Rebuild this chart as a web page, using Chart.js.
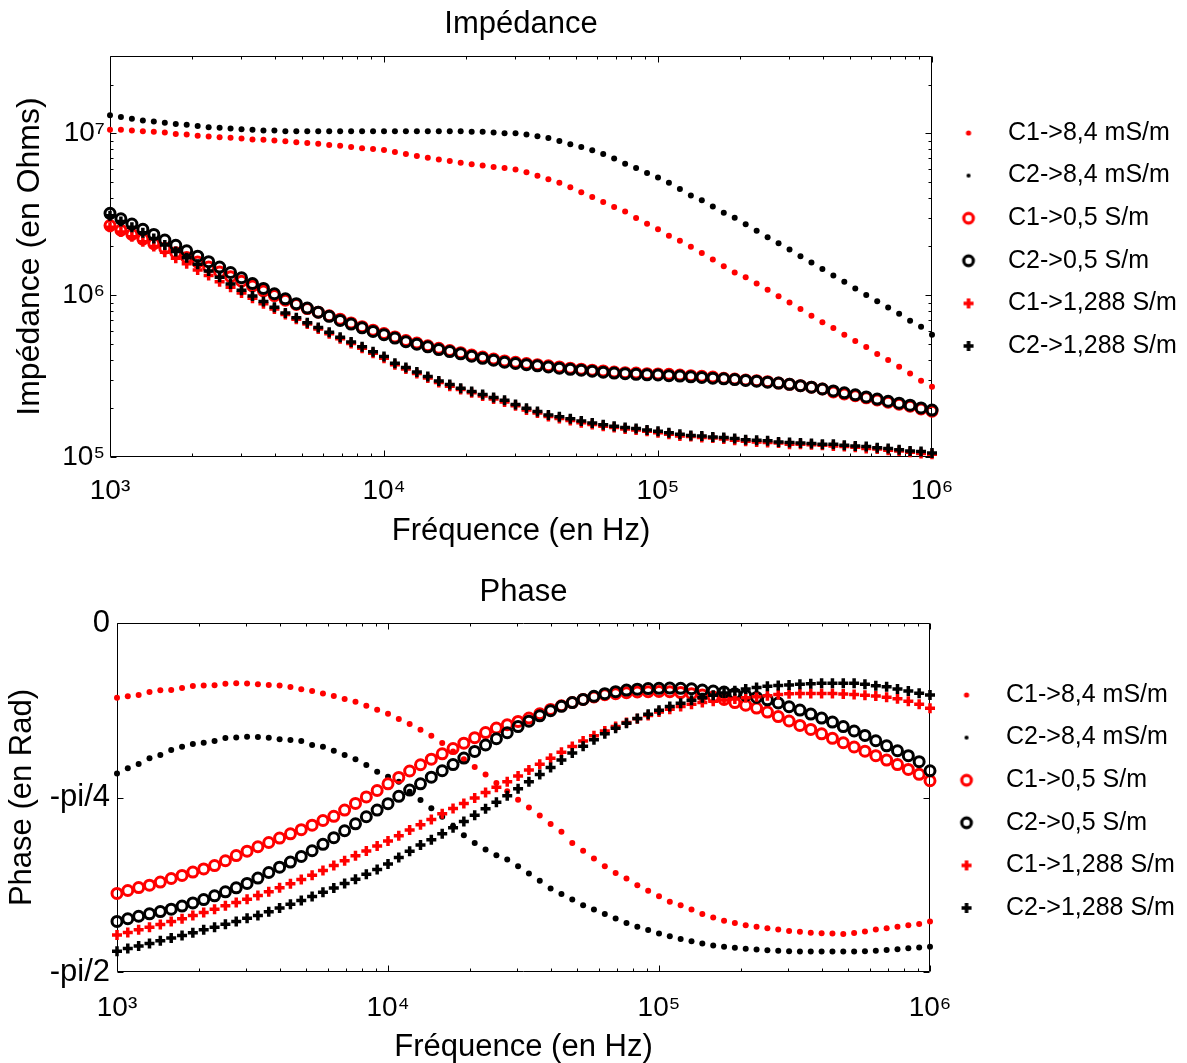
<!DOCTYPE html>
<html><head><meta charset="utf-8">
<script src="https://cdn.jsdelivr.net/npm/chart.js@4.4.1/dist/chart.umd.min.js"></script>
<style>
html,body{margin:0;padding:0;background:#fff;}
body{width:1187px;height:1063px;position:relative;overflow:hidden;}
canvas{position:absolute;left:0;}
</style></head>
<body>
<canvas id="cImp" width="1187" height="560" style="top:0px"></canvas>
<canvas id="cPh" width="1187" height="503" style="top:560px"></canvas>
<script>
// ---------- DATA ----------
const freqHz = [1000,1096,1202,1318,1445,1585,1738,1905,2089,2291,2512,2754,3020,3311,3631,3981,4365,4786,5248,5754,6310,6918,7586,8318,9120,
10000,10960,12020,13180,14450,15850,17380,19050,20890,22910,25120,27540,30200,33110,36310,39810,43650,47860,52480,57540,63100,69180,75860,83180,91200,
100000,109600,120200,131800,144500,158500,173800,190500,208900,229100,251200,275400,302000,331100,363100,398100,436500,478600,524800,575400,631000,691800,758600,831800,912000,
1000000];

const seriesLabels = ['C1->8,4 mS/m','C2->8,4 mS/m','C1->0,5 S/m','C2->0,5 S/m','C1->1,288 S/m','C2->1,288 S/m'];

// Impedance (Ohms)
const impC1_84 = [1.05e7,1.05e7,1.04e7,1.03e7,1.02e7,1.01e7,9.89e6,9.82e6,9.66e6,9.55e6,
9.44e6,9.38e6,9.29e6,9.16e6,9.12e6,9.02e6,8.91e6,8.81e6,8.71e6,8.61e6,
8.47e6,8.36e6,8.22e6,8.09e6,8.00e6,7.89e6,7.67e6,7.45e6,7.24e6,7.05e6,
6.89e6,6.73e6,6.58e6,6.43e6,6.31e6,6.19e6,6.10e6,5.97e6,5.75e6,5.47e6,
5.19e6,4.95e6,4.63e6,4.32e6,4.04e6,3.76e6,3.50e6,3.29e6,2.99e6,2.76e6,
2.55e6,2.33e6,2.17e6,1.99e6,1.82e6,1.66e6,1.51e6,1.38e6,1.29e6,1.18e6,
1.08e6,9.84e5,8.99e5,8.20e5,7.46e5,6.79e5,6.27e5,5.69e5,5.20e5,4.78e5,
4.33e5,3.97e5,3.61e5,3.28e5,2.96e5,2.72e5];
const impC2_84 = [1.29e7,1.26e7,1.23e7,1.20e7,1.18e7,1.16e7,1.14e7,1.13e7,1.11e7,1.09e7,
1.08e7,1.07e7,1.06e7,1.05e7,1.04e7,1.04e7,1.03e7,1.03e7,1.03e7,1.03e7,
1.03e7,1.03e7,1.03e7,1.03e7,1.03e7,1.03e7,1.03e7,1.03e7,1.03e7,1.03e7,
1.03e7,1.03e7,1.03e7,1.02e7,1.02e7,1.01e7,1.00e7,1.00e7,9.82e6,9.57e6,
9.35e6,8.95e6,8.55e6,8.22e6,7.85e6,7.45e6,6.97e6,6.49e6,6.10e6,5.68e6,
5.32e6,4.95e6,4.52e6,4.13e6,3.85e6,3.53e6,3.23e6,3.01e6,2.74e6,2.50e6,
2.28e6,2.09e6,1.91e6,1.74e6,1.59e6,1.45e6,1.32e6,1.21e6,1.10e6,1.00e6,
9.16e5,8.38e5,7.66e5,6.95e5,6.38e5,5.69e5];
const impC1_05 = [2.69e6,2.52e6,2.37e6,2.22e6,2.08e6,1.95e6,1.83e6,1.71e6,1.60e6,1.49e6,
1.39e6,1.30e6,1.22e6,1.14e6,1.06e6,9.93e5,9.31e5,8.75e5,8.26e5,7.85e5,
7.45e5,7.10e5,6.73e5,6.38e5,6.07e5,5.79e5,5.52e5,5.24e5,5.06e5,4.86e5,
4.69e5,4.55e5,4.41e5,4.26e5,4.14e5,4.03e5,3.92e5,3.85e5,3.78e5,3.72e5,
3.66e5,3.60e5,3.54e5,3.49e5,3.44e5,3.40e5,3.35e5,3.32e5,3.30e5,3.27e5,
3.26e5,3.24e5,3.21e5,3.18e5,3.15e5,3.12e5,3.06e5,3.03e5,2.99e5,2.96e5,
2.92e5,2.86e5,2.81e5,2.76e5,2.70e5,2.63e5,2.52e5,2.45e5,2.39e5,2.32e5,
2.25e5,2.18e5,2.12e5,2.06e5,1.98e5,1.92e5];
const impC2_05 = [3.20e6,2.96e6,2.75e6,2.55e6,2.37e6,2.19e6,2.03e6,1.88e6,1.74e6,1.61e6,
1.49e6,1.38e6,1.28e6,1.18e6,1.10e6,1.02e6,9.48e5,8.85e5,8.32e5,7.85e5,
7.40e5,6.98e5,6.62e5,6.28e5,5.97e5,5.70e5,5.43e5,5.15e5,4.98e5,4.79e5,
4.61e5,4.48e5,4.34e5,4.19e5,4.07e5,3.96e5,3.85e5,3.78e5,3.72e5,3.66e5,
3.60e5,3.54e5,3.48e5,3.44e5,3.39e5,3.34e5,3.30e5,3.27e5,3.24e5,3.22e5,
3.21e5,3.18e5,3.16e5,3.13e5,3.10e5,3.07e5,3.04e5,3.01e5,2.97e5,2.94e5,
2.90e5,2.86e5,2.81e5,2.76e5,2.70e5,2.63e5,2.56e5,2.49e5,2.42e5,2.35e5,
2.28e5,2.21e5,2.15e5,2.09e5,2.01e5,1.95e5];
const impC1_1288 = [2.63e6,2.45e6,2.29e6,2.14e6,2.00e6,1.84e6,1.69e6,1.56e6,1.43e6,1.32e6,
1.21e6,1.12e6,1.03e6,9.55e5,8.85e5,8.20e5,7.59e5,7.10e5,6.62e5,6.18e5,
5.77e5,5.38e5,5.02e5,4.69e5,4.38e5,4.08e5,3.72e5,3.50e5,3.28e5,3.08e5,
2.89e5,2.74e5,2.61e5,2.49e5,2.38e5,2.28e5,2.19e5,2.07e5,1.95e5,1.87e5,
1.78e5,1.73e5,1.68e5,1.63e5,1.59e5,1.55e5,1.52e5,1.49e5,1.47e5,1.44e5,
1.41e5,1.38e5,1.35e5,1.34e5,1.32e5,1.31e5,1.29e5,1.27e5,1.25e5,1.24e5,
1.23e5,1.22e5,1.20e5,1.20e5,1.19e5,1.18e5,1.17e5,1.16e5,1.15e5,1.13e5,
1.12e5,1.10e5,1.09e5,1.07e5,1.05e5,1.04e5];
const impC2_1288 = [3.09e6,2.85e6,2.63e6,2.43e6,2.24e6,2.04e6,1.86e6,1.70e6,1.55e6,1.41e6,
1.29e6,1.17e6,1.07e6,9.89e5,9.12e5,8.41e5,7.76e5,7.24e5,6.76e5,6.31e5,
5.89e5,5.50e5,5.13e5,4.79e5,4.47e5,4.17e5,3.80e5,3.57e5,3.35e5,3.14e5,
2.95e5,2.80e5,2.66e5,2.54e5,2.43e5,2.33e5,2.24e5,2.11e5,2.00e5,1.91e5,
1.82e5,1.77e5,1.72e5,1.67e5,1.62e5,1.58e5,1.55e5,1.52e5,1.50e5,1.47e5,
1.44e5,1.41e5,1.38e5,1.36e5,1.35e5,1.33e5,1.32e5,1.30e5,1.28e5,1.27e5,
1.26e5,1.24e5,1.23e5,1.22e5,1.21e5,1.20e5,1.20e5,1.18e5,1.17e5,1.16e5,
1.14e5,1.13e5,1.11e5,1.09e5,1.08e5,1.06e5];

// Phase (rad)
const phC1_84 = [-0.336,-0.330,-0.324,-0.310,-0.303,-0.302,-0.292,-0.284,-0.281,-0.280,
-0.273,-0.271,-0.272,-0.276,-0.279,-0.281,-0.288,-0.298,-0.306,-0.317,
-0.328,-0.342,-0.355,-0.372,-0.390,-0.408,-0.432,-0.455,-0.480,-0.508,
-0.540,-0.578,-0.613,-0.648,-0.682,-0.720,-0.757,-0.795,-0.830,-0.866,
-0.905,-0.940,-0.990,-1.025,-1.060,-1.095,-1.125,-1.150,-1.180,-1.205,
-1.230,-1.255,-1.270,-1.290,-1.310,-1.325,-1.340,-1.350,-1.360,-1.367,
-1.374,-1.380,-1.386,-1.390,-1.394,-1.396,-1.397,-1.400,-1.395,-1.389,
-1.380,-1.374,-1.367,-1.360,-1.355,-1.344];
const phC2_84 = [-0.677,-0.654,-0.635,-0.609,-0.594,-0.572,-0.557,-0.545,-0.539,-0.531,
-0.518,-0.515,-0.512,-0.513,-0.516,-0.523,-0.527,-0.531,-0.549,-0.557,
-0.575,-0.594,-0.613,-0.639,-0.669,-0.692,-0.714,-0.759,-0.797,-0.834,
-0.872,-0.914,-0.955,-0.990,-1.020,-1.045,-1.065,-1.095,-1.128,-1.160,
-1.195,-1.220,-1.245,-1.270,-1.290,-1.310,-1.330,-1.350,-1.367,-1.382,
-1.397,-1.410,-1.422,-1.432,-1.443,-1.451,-1.457,-1.462,-1.466,-1.470,
-1.473,-1.475,-1.477,-1.479,-1.479,-1.479,-1.479,-1.479,-1.478,-1.477,
-1.475,-1.472,-1.468,-1.464,-1.461,-1.457];
const phC1_05 = [-1.217,-1.204,-1.191,-1.180,-1.166,-1.150,-1.136,-1.121,-1.107,-1.092,
-1.070,-1.047,-1.027,-1.007,-0.988,-0.968,-0.949,-0.930,-0.910,-0.889,
-0.870,-0.842,-0.812,-0.783,-0.754,-0.724,-0.695,-0.666,-0.638,-0.613,
-0.589,-0.565,-0.541,-0.516,-0.493,-0.473,-0.458,-0.443,-0.428,-0.409,
-0.389,-0.373,-0.358,-0.344,-0.333,-0.323,-0.318,-0.314,-0.310,-0.309,
-0.308,-0.309,-0.313,-0.318,-0.324,-0.333,-0.344,-0.358,-0.370,-0.383,
-0.401,-0.421,-0.441,-0.461,-0.479,-0.499,-0.519,-0.539,-0.558,-0.577,
-0.597,-0.617,-0.637,-0.659,-0.681,-0.710];
const phC2_05 = [-1.343,-1.331,-1.320,-1.309,-1.299,-1.288,-1.274,-1.260,-1.245,-1.228,
-1.210,-1.192,-1.172,-1.148,-1.123,-1.099,-1.076,-1.051,-1.025,-0.996,
-0.966,-0.935,-0.904,-0.872,-0.842,-0.813,-0.780,-0.752,-0.724,-0.694,
-0.665,-0.637,-0.608,-0.578,-0.549,-0.521,-0.494,-0.466,-0.442,-0.418,
-0.395,-0.375,-0.358,-0.344,-0.330,-0.318,-0.309,-0.302,-0.298,-0.295,
-0.294,-0.293,-0.294,-0.296,-0.302,-0.306,-0.311,-0.318,-0.326,-0.335,
-0.346,-0.360,-0.377,-0.392,-0.410,-0.428,-0.446,-0.466,-0.486,-0.506,
-0.530,-0.553,-0.575,-0.597,-0.624,-0.665];
const phC1_1288 = [-1.404,-1.393,-1.381,-1.369,-1.357,-1.344,-1.331,-1.317,-1.303,-1.288,
-1.273,-1.258,-1.243,-1.226,-1.210,-1.192,-1.174,-1.155,-1.135,-1.114,
-1.092,-1.070,-1.048,-1.026,-1.004,-0.981,-0.957,-0.932,-0.908,-0.884,
-0.859,-0.835,-0.812,-0.788,-0.763,-0.739,-0.715,-0.689,-0.662,-0.636,
-0.609,-0.582,-0.556,-0.531,-0.508,-0.486,-0.466,-0.448,-0.431,-0.416,
-0.401,-0.388,-0.376,-0.366,-0.358,-0.352,-0.347,-0.342,-0.337,-0.332,
-0.327,-0.322,-0.318,-0.317,-0.317,-0.317,-0.317,-0.319,-0.322,-0.325,
-0.329,-0.334,-0.341,-0.352,-0.366,-0.384];
const phC2_1288 = [-1.477,-1.465,-1.454,-1.442,-1.430,-1.418,-1.406,-1.394,-1.381,-1.369,
-1.356,-1.343,-1.329,-1.317,-1.300,-1.283,-1.266,-1.249,-1.231,-1.212,
-1.193,-1.173,-1.153,-1.131,-1.110,-1.085,-1.056,-1.027,-0.999,-0.975,
-0.948,-0.921,-0.893,-0.865,-0.836,-0.807,-0.777,-0.746,-0.714,-0.682,
-0.650,-0.617,-0.585,-0.555,-0.526,-0.499,-0.474,-0.451,-0.430,-0.411,
-0.393,-0.376,-0.361,-0.348,-0.336,-0.325,-0.315,-0.305,-0.297,-0.290,
-0.285,-0.281,-0.279,-0.276,-0.273,-0.271,-0.271,-0.271,-0.271,-0.276,
-0.282,-0.287,-0.297,-0.306,-0.316,-0.324];

// Tick values / labels
const freqTickValues = [1e3, 1e4, 1e5, 1e6];
const freqTickLabels = ['10\u00B3', '10\u2074', '10\u2075', '10\u2076'];
const impTickValues = [1e5, 1e6, 1e7];
const impTickLabels = ['10\u2075', '10\u2076', '10\u2077'];
const phaseTickValues = [-Math.PI / 2, -Math.PI / 4, 0];
const phaseTickLabels = ['-pi/2', '-pi/4', '0'];

// ---------- STYLE ----------
Chart.defaults.font.family = "'Liberation Sans', Arial, Helvetica, sans-serif";
Chart.defaults.color = '#000';
const RED = '#ff0000', BLACK = '#000000';
const seriesColors = [RED, BLACK, RED, BLACK, RED, BLACK];
const seriesKinds = ['dot', 'dot', 'ring', 'ring', 'plus', 'plus'];

function markerOpts(kind, color) {
  if (kind === 'dot') return {pointStyle: 'circle', pointRadius: 3.0, pointBorderWidth: 0, pointBackgroundColor: color, pointBorderColor: color};
  if (kind === 'ring') return {pointStyle: 'circle', pointRadius: 5.0, pointBorderWidth: 3.0, pointBackgroundColor: 'rgba(0,0,0,0)', pointBorderColor: color};
  return {pointStyle: 'cross', pointRadius: 5.0, pointBorderWidth: 3.5, pointBorderColor: color, pointBackgroundColor: color};
}
function legendMarker(kind, color) {
  const c = document.createElement('canvas'); c.width = 30; c.height = 20;
  const g = c.getContext('2d'); const cx = 11, cy = 10;
  g.fillStyle = color; g.strokeStyle = color;
  if (kind === 'dot') { g.beginPath(); g.arc(cx, cy, color === RED ? 2.6 : 2.1, 0, 2 * Math.PI); g.fill(); }
  else if (kind === 'ring') { g.lineWidth = 3.2; g.beginPath(); g.arc(cx, cy, 4.8, 0, 2 * Math.PI); g.stroke(); }
  else { g.lineWidth = 3.6; g.beginPath(); g.moveTo(cx - 5, cy); g.lineTo(cx + 5, cy); g.moveTo(cx, cy - 5); g.lineTo(cx, cy + 5); g.stroke(); }
  return c;
}
const legendMarkers = seriesKinds.map((k, i) => legendMarker(k, seriesColors[i]));

function makeDatasets(seriesList) {
  return seriesList.map((vals, k) => Object.assign({
    label: seriesLabels[k],
    data: freqHz.map((f, i) => ({x: f, y: vals[i]})),
    showLine: false, clip: false, order: 6 - k
  }, markerOpts(seriesKinds[k], seriesColors[k])));
}

function decadeMinors(decades, maxV) {
  const out = [];
  decades.forEach(d => { for (let k = 2; k <= 9; k++) { if (k * d < maxV) out.push(k * d); } });
  return out;
}

const framePlugin = {
  id: 'matlabFrame',
  beforeDatasetsDraw(chart, args, o) {
    const {ctx, chartArea: a, scales: {x, y}} = chart;
    const L = Math.round(a.left) + 0.5, R = Math.round(a.right) - 0.5;
    const T = Math.round(a.top) + 0.5, B = Math.round(a.bottom) - 0.5;
    ctx.save(); ctx.strokeStyle = '#000'; ctx.lineWidth = 1; ctx.beginPath();
    const seg = (x1, y1, x2, y2) => { ctx.moveTo(x1, y1); ctx.lineTo(x2, y2); };
    const xt = (v, len) => { const p = Math.round(x.getPixelForValue(v)) + 0.5; seg(p, B, p, B - len); seg(p, T, p, T + len); };
    const yt = (v, len) => { const p = Math.round(y.getPixelForValue(v)) + 0.5; seg(L, p, L + len, p); seg(R, p, R - len, p); };
    (o.xMajor || []).forEach(v => xt(v, o.major));
    (o.xMinor || []).forEach(v => xt(v, o.minor));
    (o.yMajor || []).forEach(v => yt(v, o.major));
    (o.yMinor || []).forEach(v => yt(v, o.minor));
    ctx.rect(L, T, R - L, B - T);
    ctx.stroke(); ctx.restore();
  }
};
const legendWidthPlugin = {
  id: 'legendWidth',
  beforeLayout(chart, args, o) {
    const lg = chart.legend;
    if (lg && !lg._fixedW) {
      const orig = lg.fit.bind(lg);
      lg.fit = function () { orig(); this.width = o.width; };
      lg._fixedW = true;
    }
  }
};

function legendOpts(titleGap) {
  return {
    display: true, position: 'right', align: 'start', fullSize: false,
    title: {display: true, text: '', font: {size: 1, lineHeight: 1}, padding: {top: titleGap, bottom: 0}},
    labels: {
      usePointStyle: true, pointStyleWidth: 45.9, padding: 17.6,
      font: {size: 25}, color: '#000',
      generateLabels(chart) {
        const items = Chart.defaults.plugins.legend.labels.generateLabels(chart);
        items.forEach(it => { it.pointStyle = legendMarkers[it.datasetIndex]; it.fontColor = '#000'; });
        return items;
      },
      sort: (a, b) => a.datasetIndex - b.datasetIndex
    }
  };
}

// ---------- IMPEDANCE ----------
new Chart(document.getElementById('cImp'), {
  type: 'scatter',
  data: {datasets: makeDatasets([impC1_84, impC2_84, impC1_05, impC2_05, impC1_1288, impC2_1288])},
  options: {
    responsive: false, animation: false, devicePixelRatio: 1, events: [],
    layout: {padding: 0},
    scales: {
      x: {
        type: 'logarithmic', position: 'bottom', min: 1e3, max: 1e6,
        afterBuildTicks: s => { s.ticks = freqTickValues.map(v => ({value: v})); },
        afterFit: s => { s.height = 103; },
        grid: {display: false, drawTicks: false}, border: {display: false},
        ticks: {callback: (v, i) => freqTickLabels[i], font: {size: 28}, padding: 17, maxRotation: 0, autoSkip: false, color: '#000'},
        title: {display: true, text: 'Fréquence (en Hz)', font: {size: 31}, padding: {top: 0, bottom: 10.4}, color: '#000'}
      },
      y: {
        type: 'logarithmic', position: 'left', min: 1e5, max: 3e7,
        afterBuildTicks: s => { s.ticks = impTickValues.map(v => ({value: v})); },
        afterFit: s => { s.width = 110; },
        grid: {display: false, drawTicks: false}, border: {display: false},
        ticks: {callback: (v, i) => impTickLabels[i], font: {size: 28}, padding: 5, autoSkip: false, color: '#000'},
        title: {display: true, text: 'Impédance (en Ohms)', font: {size: 32}, padding: {top: 11, bottom: 0}, color: '#000'}
      }
    },
    plugins: {
      title: {display: true, text: 'Impédance', fullSize: false, font: {size: 31, weight: 'normal'}, color: '#000', padding: {top: 5.4, bottom: 13.4}},
      legend: legendOpts(45.9),
      tooltip: {enabled: false},
      legendWidth: {width: 255},
      matlabFrame: {
        xMajor: freqTickValues, xMinor: decadeMinors([1e3, 1e4, 1e5], 1e6),
        yMajor: impTickValues, yMinor: decadeMinors([1e5, 1e6, 1e7], 3e7),
        major: 6, minor: 3
      }
    }
  },
  plugins: [framePlugin, legendWidthPlugin]
});

// ---------- PHASE ----------
new Chart(document.getElementById('cPh'), {
  type: 'scatter',
  data: {datasets: makeDatasets([phC1_84, phC2_84, phC1_05, phC2_05, phC1_1288, phC2_1288])},
  options: {
    responsive: false, animation: false, devicePixelRatio: 1, events: [],
    layout: {padding: 0},
    scales: {
      x: {
        type: 'logarithmic', position: 'bottom', min: 1e3, max: 1e6,
        afterBuildTicks: s => { s.ticks = freqTickValues.map(v => ({value: v})); },
        afterFit: s => { s.height = 91; },
        grid: {display: false, drawTicks: false}, border: {display: false},
        ticks: {callback: (v, i) => freqTickLabels[i], font: {size: 28}, padding: 19, maxRotation: 0, autoSkip: false, color: '#000'},
        title: {display: true, text: 'Fréquence (en Hz)', font: {size: 31}, padding: {top: 0, bottom: -3}, color: '#000'}
      },
      y: {
        type: 'linear', position: 'left', min: -Math.PI / 2, max: 0,
        afterBuildTicks: s => { s.ticks = phaseTickValues.map(v => ({value: v})); },
        afterFit: s => { s.width = 117; },
        grid: {display: false, drawTicks: false}, border: {display: false},
        ticks: {callback: (v, i) => phaseTickLabels[i], font: {size: 31}, padding: 7, autoSkip: false, color: '#000'},
        title: {display: true, text: 'Phase (en Rad)', font: {size: 31}, padding: {top: 3.4, bottom: 0}, color: '#000'}
      }
    },
    plugins: {
      title: {display: true, text: 'Phase', fullSize: false, font: {size: 31, weight: 'normal'}, color: '#000', padding: {top: 13.4, bottom: 12.4}},
      legend: legendOpts(40.9),
      tooltip: {enabled: false},
      legendWidth: {width: 257},
      matlabFrame: {
        xMajor: freqTickValues, xMinor: decadeMinors([1e3, 1e4, 1e5], 1e6),
        yMajor: phaseTickValues, yMinor: [],
        major: 6, minor: 3
      }
    }
  },
  plugins: [framePlugin, legendWidthPlugin]
});
</script>
</body></html>
